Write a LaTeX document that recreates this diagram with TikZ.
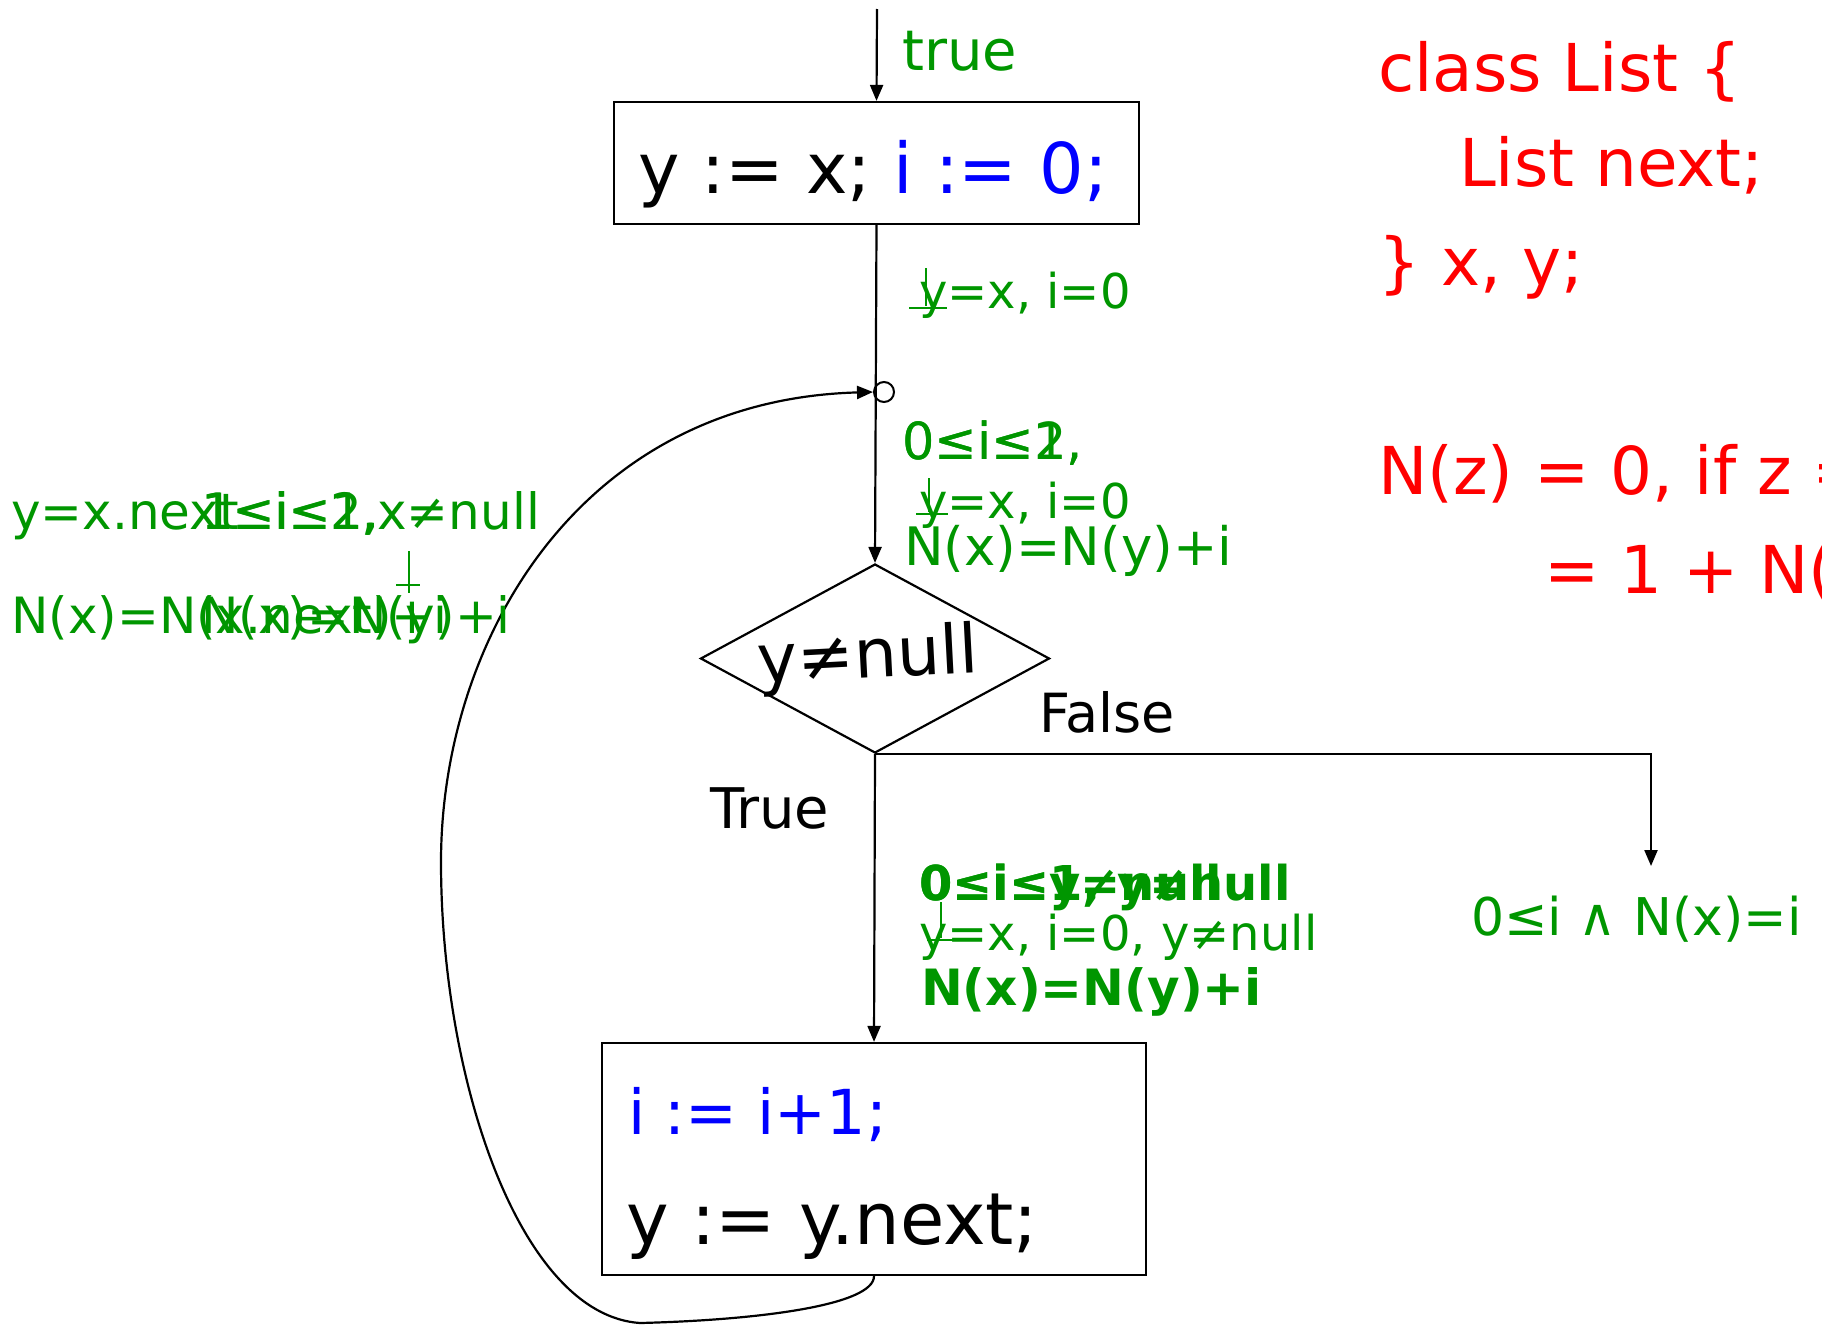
\documentclass[tikz,border=0pt]{standalone}
\usepackage{fontspec}
\setmainfont{DejaVu Sans}
\usetikzlibrary{arrows.meta,shapes.geometric}
\definecolor{gr}{RGB}{0,150,0}
\definecolor{rd}{RGB}{255,0,0}
\definecolor{bl}{RGB}{0,0,255}
\newcommand{\fsz}[1]{\fontsize{#1pt}{#1pt}\selectfont}
\begin{document}
\begin{tikzpicture}[x=1pt,y=-1pt,line width=2.2pt,
  >={Triangle[length=16pt,width=13pt]},
  lbl/.style={inner sep=0pt,anchor=base west},
  gtxt/.style={lbl,text=gr},
  rtxt/.style={lbl,text=rd,font=\fsz{66}},
  stmt/.style={draw,inner sep=0pt},
  art/.style={gr,line width=1.6pt}]
\useasboundingbox (0,0) rectangle (1822,1325);
\clip (0,0) rectangle (1822,1325);

% boxes and decision
\node[stmt,minimum width=525pt,minimum height=122pt] (b1) at (876.5,163) {};
\node[lbl,font=\fsz{70}] (t1) at (637,193) {y := x; \textcolor{bl}{i := 0;}};
\node[draw,diamond,inner sep=0pt,minimum width=349pt,minimum height=189pt] (d) at (875,658.5) {};
\node[lbl,font=\fsz{68},rotate=3] (dt) at (757,684) {y≠null};
\node[stmt,minimum width=544pt,minimum height=232pt] (b2) at (874,1159) {};
\node[lbl,font=\fsz{62},text=bl] (t2) at (627,1134) {i := i+1;};
\node[lbl,font=\fsz{72}] (t3) at (625,1244) {y := y.next;};
\node[draw,circle,inner sep=0pt,minimum size=20pt,line width=2pt] (loop) at (884,392) {};

% connectors
\coordinate (start) at (877,9);
\coordinate (post) at (1651,866);
\coordinate (lb) at (640,1323);
\coordinate (ll) at (441,862);
\draw[->] (start) -- (b1.north);
\draw[->] (b1.south) -- (d.north);
\draw[->] (d.south) -- (b2.north);
\draw[->] (d.south) -| (post);
\draw[->] (b2.south) .. controls (874,1305) and (760,1320) .. (lb)
  .. controls (520,1315) and (441,1080) .. (ll)
  .. controls (441,640) and (580,400) .. (loop.west);

% branch labels
\node[lbl,font=\fsz{54}] (fl) at (1038,732) {False};
\node[lbl,font=\fsz{56}] (tl) at (709,828) {True};

% green annotations
\node[gtxt,font=\fsz{56}] (tr) at (901,70) {true};
\node[gtxt,font=\fsz{48}] (a1) at (918,308) {y=x, i=0};
\draw[art] (926,268) -- (926,306) (909,308) -- (947,308);

\node[gtxt,font=\fsz{51}] (h1) at (901,459) {0≤i≤1,};
\node[gtxt,font=\fsz{51}] (h2) at (901,459) {0≤i≤2,};
\node[gtxt,font=\fsz{48}] (h3) at (918,518) {y=x, i=0};
\draw[art] (929,478) -- (929,512) (916,514) -- (948,514);
\node[gtxt,font=\fsz{53}] (h4) at (903,565) {N(x)=N(y)+i};

\node[gtxt,font=\fsz{50}] (l1) at (10,529) {y=x.next};
\node[gtxt,font=\fsz{50}] (l2) at (200,529) {1≤i≤2,};
\node[gtxt,font=\fsz{50}] (l3) at (201,529) {1≤i≤1,};
\node[gtxt,font=\fsz{50},anchor=base east] (l4) at (541,529) {,x≠null};
\node[gtxt,font=\fsz{50}] (l5) at (10,633) {N(x)=N(x.next)+i};
\node[gtxt,font=\fsz{50}] (l6) at (200,633) {N(x)=N(y)+i};
\draw[art] (409,551) -- (409,593) (396,585) -- (420,585);

\node[gtxt,font=\bfseries\fsz{48}] (p1) at (918,900) {0≤i≤1, y≠null};
\node[gtxt,font=\bfseries\fsz{48}] (p2) at (918,900) {0≤i≤y≠null};
\node[gtxt,font=\fsz{48}] (p3) at (918,950) {y=x, i=0, y≠null};
\draw[art] (941,902) -- (941,938) (927,940) -- (956,940);
\node[gtxt,font=\bfseries\fsz{50}] (p4) at (920,1005) {N(x)=N(y)+i};

\node[gtxt,font=\fsz{52}] (ex) at (1470,935) {0≤i ∧ N(x)=i};

% red text
\node[rtxt] (r1) at (1377,91) {class List \{};
\node[rtxt] (r2) at (1458,186) {List next;};
\node[rtxt] (r3) at (1377,285) {\} x, y;};
\node[rtxt,font=\fsz{66}] (r4) at (1377,494) {N(z) = 0, if z = null};
\node[rtxt,font=\fsz{66}] (r5) at (1543,593) {= 1 + N(z.next)};
\end{tikzpicture}
\end{document}
